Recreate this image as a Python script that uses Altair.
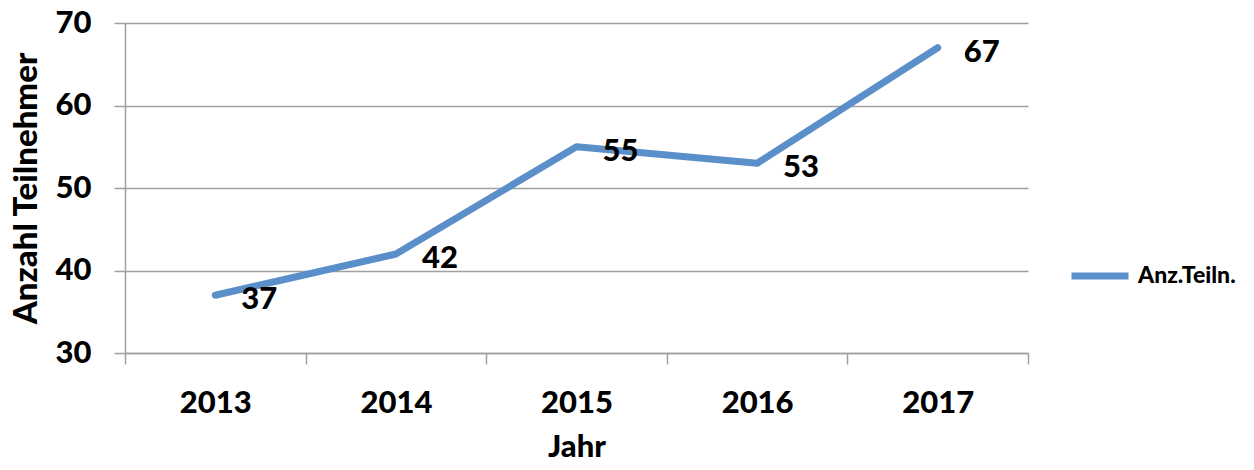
import altair as alt
import pandas as pd

years = ["2013", "2014", "2015", "2016", "2017"]
teilnehmer = [37, 42, 55, 53, 67]
series = "Anz.Teiln."

df = pd.DataFrame({"Jahr": years, "Anzahl": teilnehmer, "Serie": [series] * len(years)})

FONT = "Lato"
W = 900
BLUE = "#5B8FC9"
GRID = "#A0A0A0"

x_enc = alt.X(
    "Jahr:O",
    bandPosition=0.5,
    scale=alt.Scale(type="band", paddingInner=0, paddingOuter=0),
    axis=alt.Axis(
        title="Jahr",
        labelAngle=0,
        grid=False,
        tickBand="extent",
        domainColor=GRID,
        domainWidth=1.5,
        tickColor=GRID,
        tickWidth=1.5,
        tickSize=11,
        labelPadding=24,
        labelFont=FONT,
        labelFontSize=31,
        labelFontWeight=W,
        labelColor="black",
        titleFont=FONT,
        titleFontSize=31,
        titleFontWeight=W,
        titleColor="black",
        titlePadding=14,
    ),
)
y_enc = alt.Y(
    "Anzahl:Q",
    scale=alt.Scale(domain=[30, 70], nice=False, zero=False),
    axis=alt.Axis(
        title="Anzahl Teilnehmer",
        values=[30, 40, 50, 60, 70],
        grid=True,
        gridColor=GRID,
        gridWidth=1.5,
        domainColor=GRID,
        domainWidth=1.5,
        tickColor=GRID,
        tickWidth=1.5,
        tickSize=11,
        labelPadding=23,
        labelFont=FONT,
        labelFontSize=31,
        labelFontWeight=W,
        labelColor="black",
        titleFont=FONT,
        titleFontSize=33,
        titleFontWeight=W,
        titleColor="black",
        titlePadding=12,
    ),
)

line = alt.Chart(df).mark_line(strokeWidth=7, strokeCap="round", strokeJoin="round").encode(
    x=x_enc,
    y=y_enc,
    color=alt.Color(
        "Serie:N",
        scale=alt.Scale(range=[BLUE]),
        legend=alt.Legend(
            title=None,
            orient="none",
            legendX=943,
            legendY=221,
            symbolType="stroke",
            symbolSize=3249,
            symbolStrokeWidth=7,
            labelFont=FONT,
            labelFontSize=23,
            labelFontWeight=W,
            labelColor="black",
            labelOffset=6,
        ),
    ),
)

labels = alt.Chart(df).mark_text(
    font=FONT, fontSize=31, fontWeight=W, color="black",
    align="center", baseline="middle", dx=44, dy=5,
).encode(
    x=alt.X("Jahr:O", bandPosition=0.5),
    y=alt.Y("Anzahl:Q"),
    text=alt.Text("Anzahl:Q"),
)

chart = (line + labels).properties(
    width=903,
    height=330,
    autosize=alt.AutoSizeParams(type="none"),
    padding={"left": 117, "top": 15, "right": 210, "bottom": 108},
).configure_view(stroke=None)

chart.save("out.html", embed_options={"renderer": "svg", "actions": False})
